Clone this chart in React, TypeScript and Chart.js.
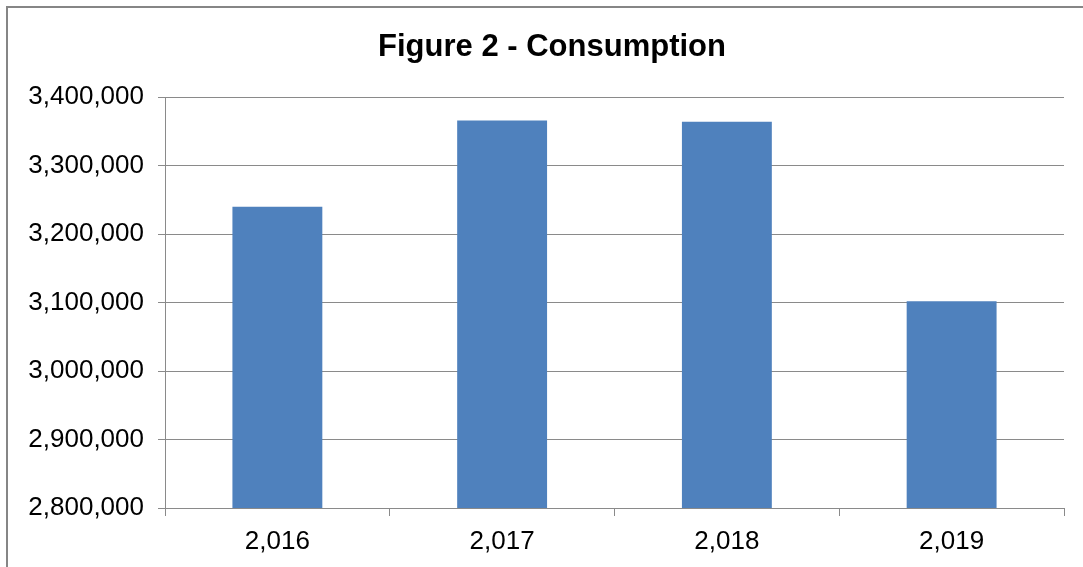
import React, { useEffect, useRef } from "react";
import { Chart, registerables } from "chart.js";

Chart.register(...registerables);

const categories = ["2,016", "2,017", "2,018", "2,019"];
const consumption = [3240000, 3366000, 3364000, 3102000];
const yMin = 2800000;
const yMax = 3400000;
const yStep = 100000;
const titleText = "Figure 2 - Consumption";

const FONT = "'Liberation Sans', Arial, sans-serif";
const GRID = "#8a8a8a";

export default function App() {
  const ref = useRef<HTMLCanvasElement | null>(null);

  useEffect(() => {
    if (!ref.current) return;
    const chart = new Chart(ref.current, {
      type: "bar",
      data: {
        labels: categories,
        datasets: [
          {
            data: consumption,
            backgroundColor: "#4F81BD",
            borderWidth: 0,
            barPercentage: 0.4,
            categoryPercentage: 1,
          },
        ],
      },
      options: {
        animation: false,
        responsive: false,
        maintainAspectRatio: false,
        layout: { padding: 0 },
        plugins: {
          legend: { display: false },
          tooltip: { enabled: false },
          title: {
            display: true,
            text: titleText,
            color: "#000",
            font: { family: FONT, size: 31, weight: "bold", lineHeight: 1.2 },
            padding: { top: 21, bottom: 31 },
          },
        },
        scales: {
          x: {
            afterFit: (s: any) => {
              s.height = 60;
            },
            grid: {
              drawOnChartArea: false,
              drawTicks: true,
              tickLength: 8,
              color: GRID,
              lineWidth: 1,
            },
            border: { display: true, color: GRID, width: 1 },
            ticks: {
              color: "#000",
              font: { family: FONT, size: 26 },
              padding: 10,
              maxRotation: 0,
            },
          },
          y: {
            min: yMin,
            max: yMax,
            afterFit: (s: any) => {
              s.width = 157;
            },
            grid: {
              drawTicks: true,
              tickLength: 7,
              color: GRID,
              lineWidth: 1,
            },
            border: { display: true, color: GRID, width: 1 },
            ticks: {
              stepSize: yStep,
              color: "#000",
              font: { family: FONT, size: 26 },
              padding: 14,
              callback: (v: any) => Number(v).toLocaleString("en-US"),
            },
          },
          spacer: {
            type: "linear",
            position: "right",
            min: yMin,
            max: yMax,
            afterFit: (s: any) => {
              s.width = 32;
            },
            grid: { display: false, drawTicks: false },
            border: { display: false },
            ticks: { display: false },
          },
        },
      },
    });
    return () => chart.destroy();
  }, []);

  return (
    <div
      style={{
        position: "fixed",
        left: 0,
        top: 0,
        width: 1083,
        height: 567,
        overflow: "hidden",
        background: "#fff",
      }}
    >
      <div
        style={{
          position: "absolute",
          left: 6,
          top: 6,
          border: "2px solid #868686",
          width: 1088,
          height: 560,
        }}
      >
        <canvas ref={ref} width={1088} height={560} style={{ display: "block" }} />
      </div>
    </div>
  );
}
